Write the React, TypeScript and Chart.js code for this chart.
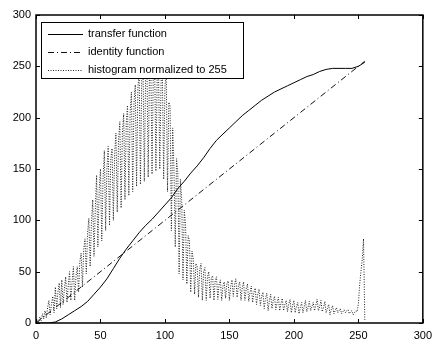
import React, { useEffect, useRef } from "react";
import { Chart, registerables } from "chart.js";

Chart.register(...registerables);

const seriesLabels = ["transfer function", "identity function", "histogram normalized to 255"];

const transferX = [0, 10, 15, 20, 25, 30, 35, 40, 45, 50, 55, 60, 65, 70, 75, 80, 85, 90, 95, 100, 105, 110, 115, 120, 125, 130, 135, 140, 145, 150, 155, 160, 165, 170, 175, 180, 185, 190, 195, 200, 205, 210, 215, 220, 225, 230, 235, 240, 245, 250, 255];
const transferY = [0, 0, 1, 4, 8, 12, 16, 21, 28, 35, 43, 53, 63, 72, 80, 88, 95, 101, 108, 115, 122, 131, 138, 146, 153, 161, 170, 178, 184, 190, 196, 202, 207, 212, 217, 221, 225, 228, 231, 234, 237, 240, 242, 245, 247, 248, 248, 248, 248, 250, 254];

const identityX = [0, 255];
const identityY = [0, 255];

const histogramValues = [
  0, 3, 1, 6, 2, 9, 4, 12, 5, 15,
  22, 8, 18, 26, 10, 35, 14, 30, 39, 15,
  42, 18, 33, 45, 20, 36, 50, 22, 40, 55,
  22, 45, 55, 30, 60, 68, 35, 72, 82, 48,
  88, 102, 55, 98, 120, 65, 112, 144, 74, 130,
  150, 80, 140, 168, 90, 150, 172, 95, 160, 170,
  100, 165, 185, 108, 178, 196, 112, 185, 204, 120,
  195, 212, 124, 205, 225, 128, 215, 232, 133, 228,
  245, 135, 238, 250, 138, 240, 255, 142, 245, 252,
  145, 248, 255, 148, 240, 250, 150, 235, 246, 140,
  230, 245, 128, 215, 211, 90, 190, 150, 74, 160,
  146, 48, 140, 120, 42, 110, 95, 38, 85, 80,
  30, 70, 62, 28, 58, 55, 25, 52, 58, 22,
  50, 54, 22, 45, 50, 24, 44, 46, 22, 42,
  45, 23, 38, 42, 22, 36, 40, 24, 38, 41,
  22, 36, 42, 26, 38, 43, 25, 36, 40, 22,
  35, 40, 22, 33, 38, 21, 30, 36, 20, 30,
  34, 18, 28, 33, 17, 26, 30, 14, 24, 29,
  12, 22, 28, 14, 22, 26, 13, 20, 25, 12,
  19, 24, 12, 18, 22, 11, 18, 23, 10, 17,
  22, 10, 16, 20, 9, 15, 20, 10, 16, 22,
  11, 15, 21, 12, 16, 20, 12, 17, 23, 12,
  16, 22, 11, 15, 21, 10, 14, 18, 8, 13,
  17, 9, 12, 15, 10, 12, 14, 9, 11, 13,
  10, 12, 13, 9, 11, 12, 8, 10, 12, 11,
  18, 37, 50, 62, 82, 3,
];

const xTicks = [0, 50, 100, 150, 200, 250, 300];
const yTicks = [0, 50, 100, 150, 200, 250, 300];

const FONT = "'Liberation Sans', Arial, Helvetica, sans-serif";

const boxAndTicks = {
  id: "boxAndTicks",
  afterDatasetsDraw(chart: any) {
    const { ctx, chartArea: a, scales } = chart;
    ctx.save();
    ctx.strokeStyle = "#000";
    ctx.lineWidth = 1;
    const tl = 4;
    ctx.beginPath();
    xTicks.forEach((v) => {
      const x = Math.round(scales.x.getPixelForValue(v)) + 0.5;
      ctx.moveTo(x, a.bottom);
      ctx.lineTo(x, a.bottom - tl);
      ctx.moveTo(x, a.top);
      ctx.lineTo(x, a.top + tl);
    });
    yTicks.forEach((v) => {
      const y = Math.round(scales.y.getPixelForValue(v)) + 0.5;
      ctx.moveTo(a.left, y);
      ctx.lineTo(a.left + tl, y);
      ctx.moveTo(a.right, y);
      ctx.lineTo(a.right - tl, y);
    });
    ctx.stroke();
    ctx.lineWidth = 1.5;
    ctx.strokeRect(a.left, a.top, a.right - a.left, a.bottom - a.top);
    ctx.restore();
  },
  afterDraw(chart: any) {
    const { ctx, chartArea: a } = chart;
    ctx.save();
    const bx = a.left + 5;
    const by = a.top + 7;
    const bw = 202;
    const bh = 56;
    ctx.fillStyle = "#fff";
    ctx.fillRect(bx, by, bw, bh);
    ctx.strokeStyle = "#000";
    ctx.lineWidth = 1;
    ctx.strokeRect(bx + 0.5, by + 0.5, bw, bh);
    ctx.font = `11px ${FONT}`;
    ctx.textBaseline = "middle";
    ctx.fillStyle = "#000";
    chart.data.datasets.forEach((ds: any, i: number) => {
      const y = by + 11.5 + i * 18.3;
      ctx.beginPath();
      ctx.setLineDash(ds.borderDash || []);
      ctx.strokeStyle = ds.borderColor;
      ctx.lineWidth = 1;
      ctx.moveTo(bx + 7, Math.round(y) + 0.5);
      ctx.lineTo(bx + 42, Math.round(y) + 0.5);
      ctx.stroke();
      ctx.setLineDash([]);
      ctx.fillText(ds.label, bx + 47, y);
    });
    ctx.restore();
  },
};

export default function App() {
  const ref = useRef<HTMLCanvasElement>(null);
  useEffect(() => {
    if (!ref.current) return;
    const chart = new Chart(ref.current, {
      type: "line",
      data: {
        datasets: [
          {
            label: seriesLabels[0],
            data: transferX.map((x, i) => ({ x, y: transferY[i] })),
            borderColor: "#000",
            borderWidth: 1,
            pointRadius: 0,
          },
          {
            label: seriesLabels[1],
            data: identityX.map((x, i) => ({ x, y: identityY[i] })),
            borderColor: "#111",
            borderWidth: 1,
            borderDash: [6, 3, 1, 3],
            pointRadius: 0,
          },
          {
            label: seriesLabels[2],
            data: histogramValues.map((y, i) => ({ x: i, y })),
            borderColor: "#222",
            borderWidth: 1,
            borderDash: [1, 1.5],
            pointRadius: 0,
          },
        ],
      },
      options: {
        animation: false,
        responsive: true,
        maintainAspectRatio: false,
        layout: { padding: { top: 15, right: 11, left: 0, bottom: 0 } },
        plugins: { legend: { display: false }, tooltip: { enabled: false } },
        scales: {
          x: {
            type: "linear",
            min: 0,
            max: 300,
            grid: { display: false, drawTicks: false },
            border: { display: false },
            ticks: {
              stepSize: 50,
              color: "#000",
              padding: 6,
              maxRotation: 0,
              font: { family: FONT, size: 11 },
            },
            afterFit: (s: any) => {
              s.height = 19;
            },
          },
          y: {
            type: "linear",
            min: 0,
            max: 300,
            grid: { display: false, drawTicks: false },
            border: { display: false },
            ticks: {
              stepSize: 50,
              color: "#000",
              padding: 5,
              font: { family: FONT, size: 11 },
            },
            afterFit: (s: any) => {
              s.width = 36;
            },
          },
        },
      },
      plugins: [boxAndTicks],
    });
    return () => chart.destroy();
  }, []);
  return (
    <div style={{ position: "fixed", left: 0, top: 0, width: 438, height: 342, background: "#fff" }}>
      <canvas ref={ref} />
    </div>
  );
}
